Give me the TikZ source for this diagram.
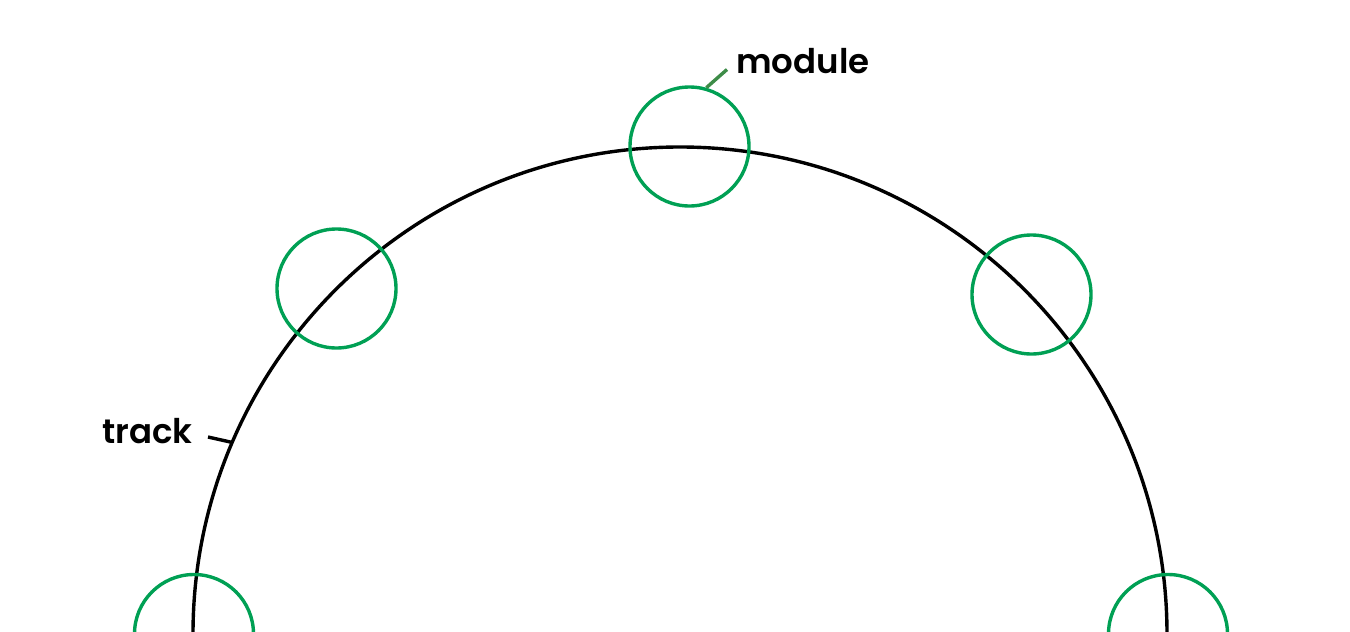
\documentclass[tikz,border=0pt]{standalone}
\usepackage{fontspec}
\setmainfont{Poppins}[BoldFont={* SemiBold}]
\definecolor{modgreen}{RGB}{0,160,84}
\definecolor{leadgreen}{RGB}{62,140,72}
\begin{document}
\begin{tikzpicture}[x=1pt,y=-1pt,
  trackline/.style={draw=black,line width=3.4pt},
  modcircle/.style={circle,draw=modgreen,line width=3.4pt,minimum size=119pt,inner sep=0pt},
  lbl/.style={font=\bfseries\fontsize{34}{40}\selectfont,inner sep=0pt,anchor=base west}]
\useasboundingbox (0,0) rectangle (1350,632);
\clip (0,0) rectangle (1350,632);
\coordinate (c) at (680,634);
\draw[trackline] (c) circle[radius=487];
\node[modcircle] (m1) at (689.5,146.5) {};
\node[modcircle] (m2) at (336.5,288.5) {};
\node[modcircle] (m3) at (1031.5,294.5) {};
\node[modcircle] (m4) at (194,634) {};
\node[modcircle] (m5) at (1168,634) {};
\node[lbl] (module) at (736,73) {module};
\node[lbl] (track) at (102,443) {track};
\coordinate (mend) at (727,69.5);
\coordinate (tstart) at (208,437);
\coordinate (tend) at (232.5,442.5);
\draw[leadgreen,line width=3.4pt] (m1.74) -- (mend);
\draw[black,line width=3.4pt] (tstart) -- (tend);
\end{tikzpicture}
\end{document}
